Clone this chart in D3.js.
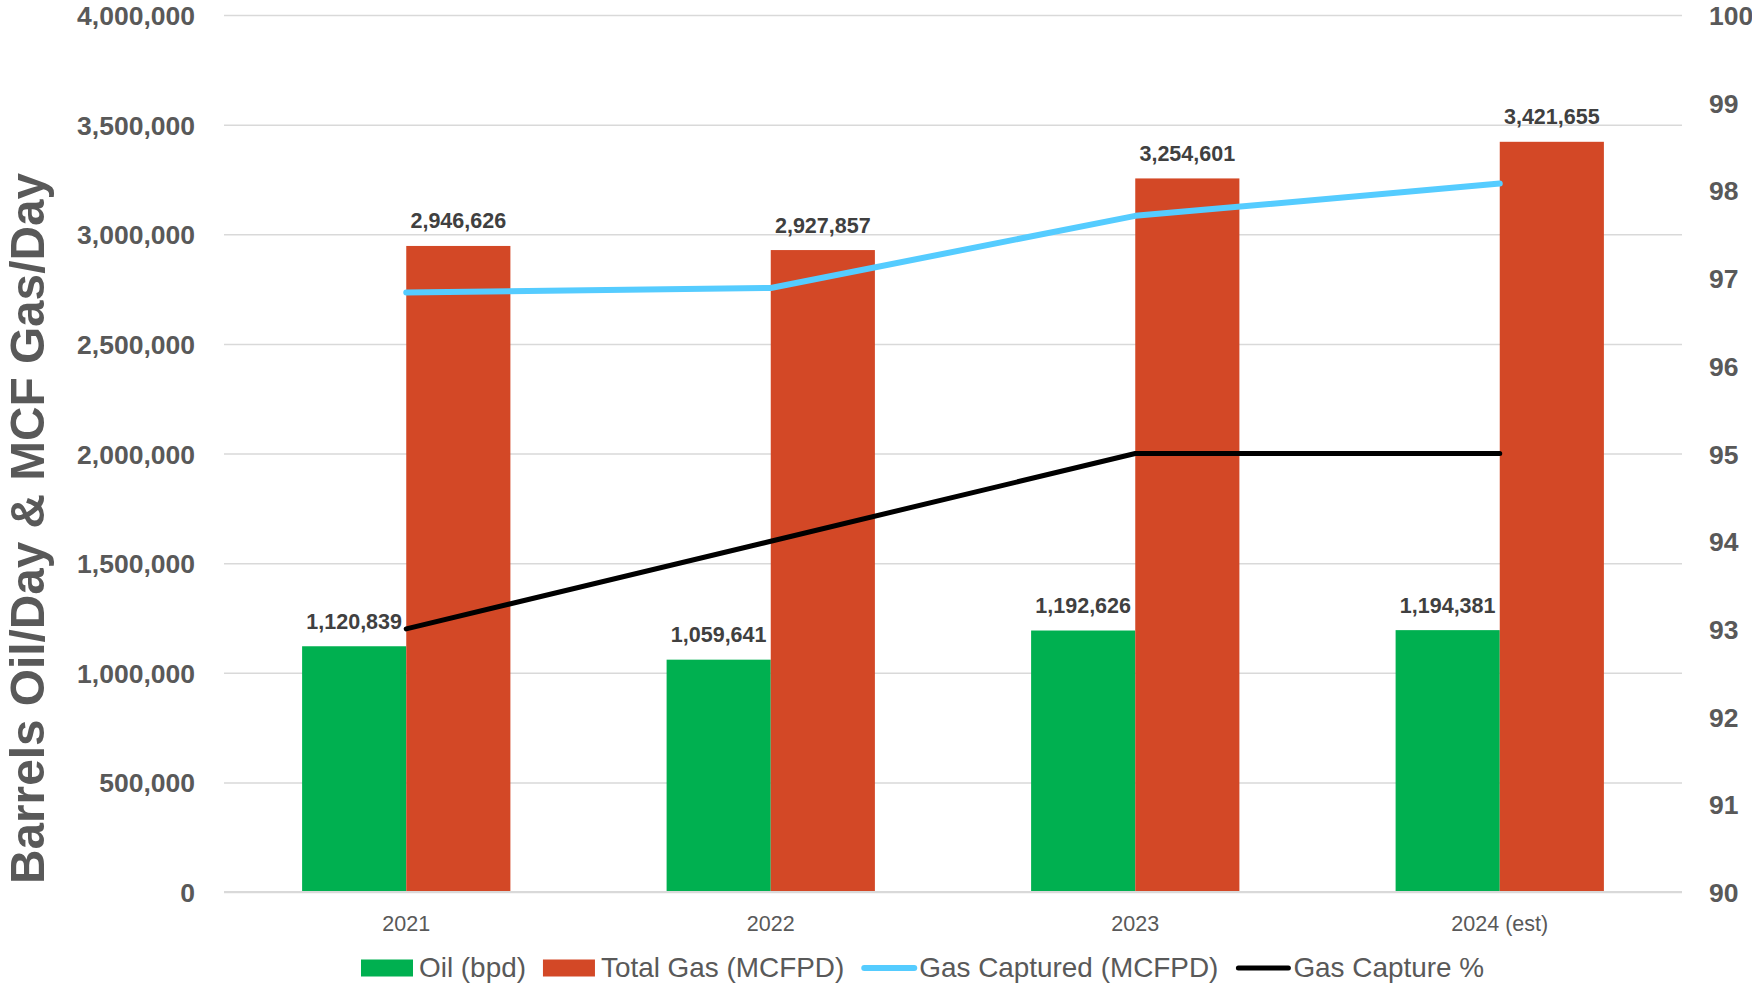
<!DOCTYPE html>
<html>
<head>
<meta charset="utf-8">
<script src="https://cdn.jsdelivr.net/npm/d3@7"></script>
<style>
  html, body { margin: 0; padding: 0; background: #ffffff; }
  svg { display: block; }
  text { font-family: "Liberation Sans", Arial, sans-serif; }
</style>
</head>
<body>
<svg id="chart" width="1752" height="983"></svg>
<script>
// ---- Data ----
const categories = ["2021", "2022", "2023", "2024 (est)"];
const oilBpd = [1120839, 1059641, 1192626, 1194381];
const totalGasMcfpd = [2946626, 2927857, 3254601, 3421655];
const gasCapturedMcfpd = [2734000, 2755000, 3084000, 3231000];
const gasCapturePct = [93, 94, 95, 95];
const leftTicks = [0, 500000, 1000000, 1500000, 2000000, 2500000, 3000000, 3500000, 4000000];
const rightTicks = [90, 91, 92, 93, 94, 95, 96, 97, 98, 99, 100];
const barSeries = ["Oil (bpd)", "Total Gas (MCFPD)"];
const legendLabels = ["Oil (bpd)", "Total Gas (MCFPD)", "Gas Captured (MCFPD)", "Gas Capture %"];

// ---- Layout / style ----
const W = 1752, H = 983;
const plot = { left: 224, right: 1682, top: 15, bottom: 892 };
const colors = { oil: "#00B050", gas: "#D34826", captured: "#55CCFF", pct: "#000000" };
const axisGray = "#595959";
const gridGray = "#D9D9D9";

const svg = d3.select("#chart");

const x0 = d3.scaleBand().domain(categories).range([plot.left, plot.right])
  .paddingInner(1.5 / 3.5).paddingOuter(0.75 / 3.5);
const x1 = d3.scaleBand().domain(barSeries).range([0, x0.bandwidth()]).padding(0);
const yL = d3.scaleLinear().domain([0, 4000000]).range([plot.bottom, plot.top]);
const yR = d3.scaleLinear().domain([90, 100]).range([plot.bottom, plot.top]);
const cx = c => x0(c) + x0.bandwidth() / 2;

// gridlines (left axis)
const gridAxis = d3.axisLeft(yL).tickValues(leftTicks).tickSize(-(plot.right - plot.left)).tickFormat("");
const gG = svg.append("g").attr("transform", `translate(${plot.left},0)`).call(gridAxis);
gG.select(".domain").remove();
gG.selectAll("line").attr("stroke", gridGray).attr("stroke-width", 1.5);

// left axis labels
const leftAxis = d3.axisLeft(yL).tickValues(leftTicks).tickSize(0).tickPadding(0)
  .tickFormat(d3.format(","));
const lA = svg.append("g").attr("transform", `translate(195,0)`).call(leftAxis);
lA.select(".domain").remove();
lA.selectAll("text").attr("font-family", "'Liberation Sans', Arial, sans-serif")
  .attr("font-size", 26.5).attr("font-weight", "bold").attr("fill", axisGray).attr("dy", "0.36em");

// right axis labels
const rightAxis = d3.axisRight(yR).tickValues(rightTicks).tickSize(0).tickPadding(0);
const rA = svg.append("g").attr("transform", `translate(1709,0)`).call(rightAxis);
rA.select(".domain").remove();
rA.selectAll("text").attr("font-family", "'Liberation Sans', Arial, sans-serif")
  .attr("font-size", 26.5).attr("font-weight", "bold").attr("fill", axisGray).attr("dy", "0.36em");

// x axis labels
const xAxis = d3.axisBottom(x0).tickSize(0).tickPadding(0);
const xA = svg.append("g").attr("transform", `translate(0,${plot.bottom})`).call(xAxis);
xA.select(".domain").remove();
xA.selectAll("text").attr("font-family", "'Liberation Sans', Arial, sans-serif")
  .attr("font-size", 21.5).attr("fill", axisGray).attr("dy", null).attr("y", 38.5);

// bars
const barData = categories.map((c, i) => ({ c, vals: [
  { s: barSeries[0], v: oilBpd[i], color: colors.oil },
  { s: barSeries[1], v: totalGasMcfpd[i], color: colors.gas }
]}));
const groups = svg.append("g").selectAll("g").data(barData).join("g")
  .attr("transform", d => `translate(${x0(d.c)},0)`);
groups.selectAll("rect").data(d => d.vals).join("rect")
  .attr("x", d => x1(d.s)).attr("width", x1.bandwidth())
  .attr("y", d => yL(d.v)).attr("height", d => yL(0) - yL(d.v))
  .attr("fill", d => d.color);

// baseline
svg.append("line").attr("x1", plot.left).attr("x2", plot.right)
  .attr("y1", yL(0)).attr("y2", yL(0)).attr("stroke", gridGray).attr("stroke-width", 2);

// lines
const lineCap = d3.line().x((d, i) => cx(categories[i])).y(d => yL(d));
svg.append("path").datum(gasCapturedMcfpd).attr("d", lineCap)
  .attr("fill", "none").attr("stroke", colors.captured).attr("stroke-width", 6)
  .attr("stroke-linecap", "round").attr("stroke-linejoin", "round");
const linePct = d3.line().x((d, i) => cx(categories[i])).y(d => yR(d));
svg.append("path").datum(gasCapturePct).attr("d", linePct)
  .attr("fill", "none").attr("stroke", colors.pct).attr("stroke-width", 5)
  .attr("stroke-linecap", "round").attr("stroke-linejoin", "round");

// data labels
groups.selectAll("text.lbl").data(d => d.vals).join("text").attr("class", "lbl")
  .attr("x", d => x1(d.s) + x1.bandwidth() / 2).attr("y", d => yL(d.v) - 17.5)
  .attr("text-anchor", "middle").attr("font-size", 21.5).attr("font-weight", "bold")
  .attr("fill", "#404040").text(d => d3.format(",")(d.v));

// y-axis title
svg.append("text").attr("transform", "translate(44,884) rotate(-90)")
  .attr("text-anchor", "start").attr("font-size", 49).attr("font-weight", "bold")
  .attr("fill", axisGray).attr("textLength", 711).attr("lengthAdjust", "spacingAndGlyphs")
  .text("Barrels Oil/Day & MCF Gas/Day");

// legend
const legend = svg.append("g");
const legendItems = [
  { label: legendLabels[0], type: "rect", color: colors.oil },
  { label: legendLabels[1], type: "rect", color: colors.gas },
  { label: legendLabels[2], type: "line", color: colors.captured, w: 6 },
  { label: legendLabels[3], type: "line", color: colors.pct, w: 5 }
];
let lx = 361;
const ly = 968;
legendItems.forEach(it => {
  if (it.type === "rect") {
    legend.append("rect").attr("x", lx).attr("y", ly - 8.5).attr("width", 52).attr("height", 17).attr("fill", it.color);
  } else {
    legend.append("line").attr("x1", lx + 3).attr("x2", lx + 53).attr("y1", ly).attr("y2", ly)
      .attr("stroke", it.color).attr("stroke-width", it.w).attr("stroke-linecap", "round");
  }
  const t = legend.append("text").attr("x", lx + 58).attr("y", ly + 9)
    .attr("font-size", 27.9).attr("fill", axisGray).text(it.label);
  lx += 58 + t.node().getComputedTextLength() + 17;
});
</script>
</body>
</html>
